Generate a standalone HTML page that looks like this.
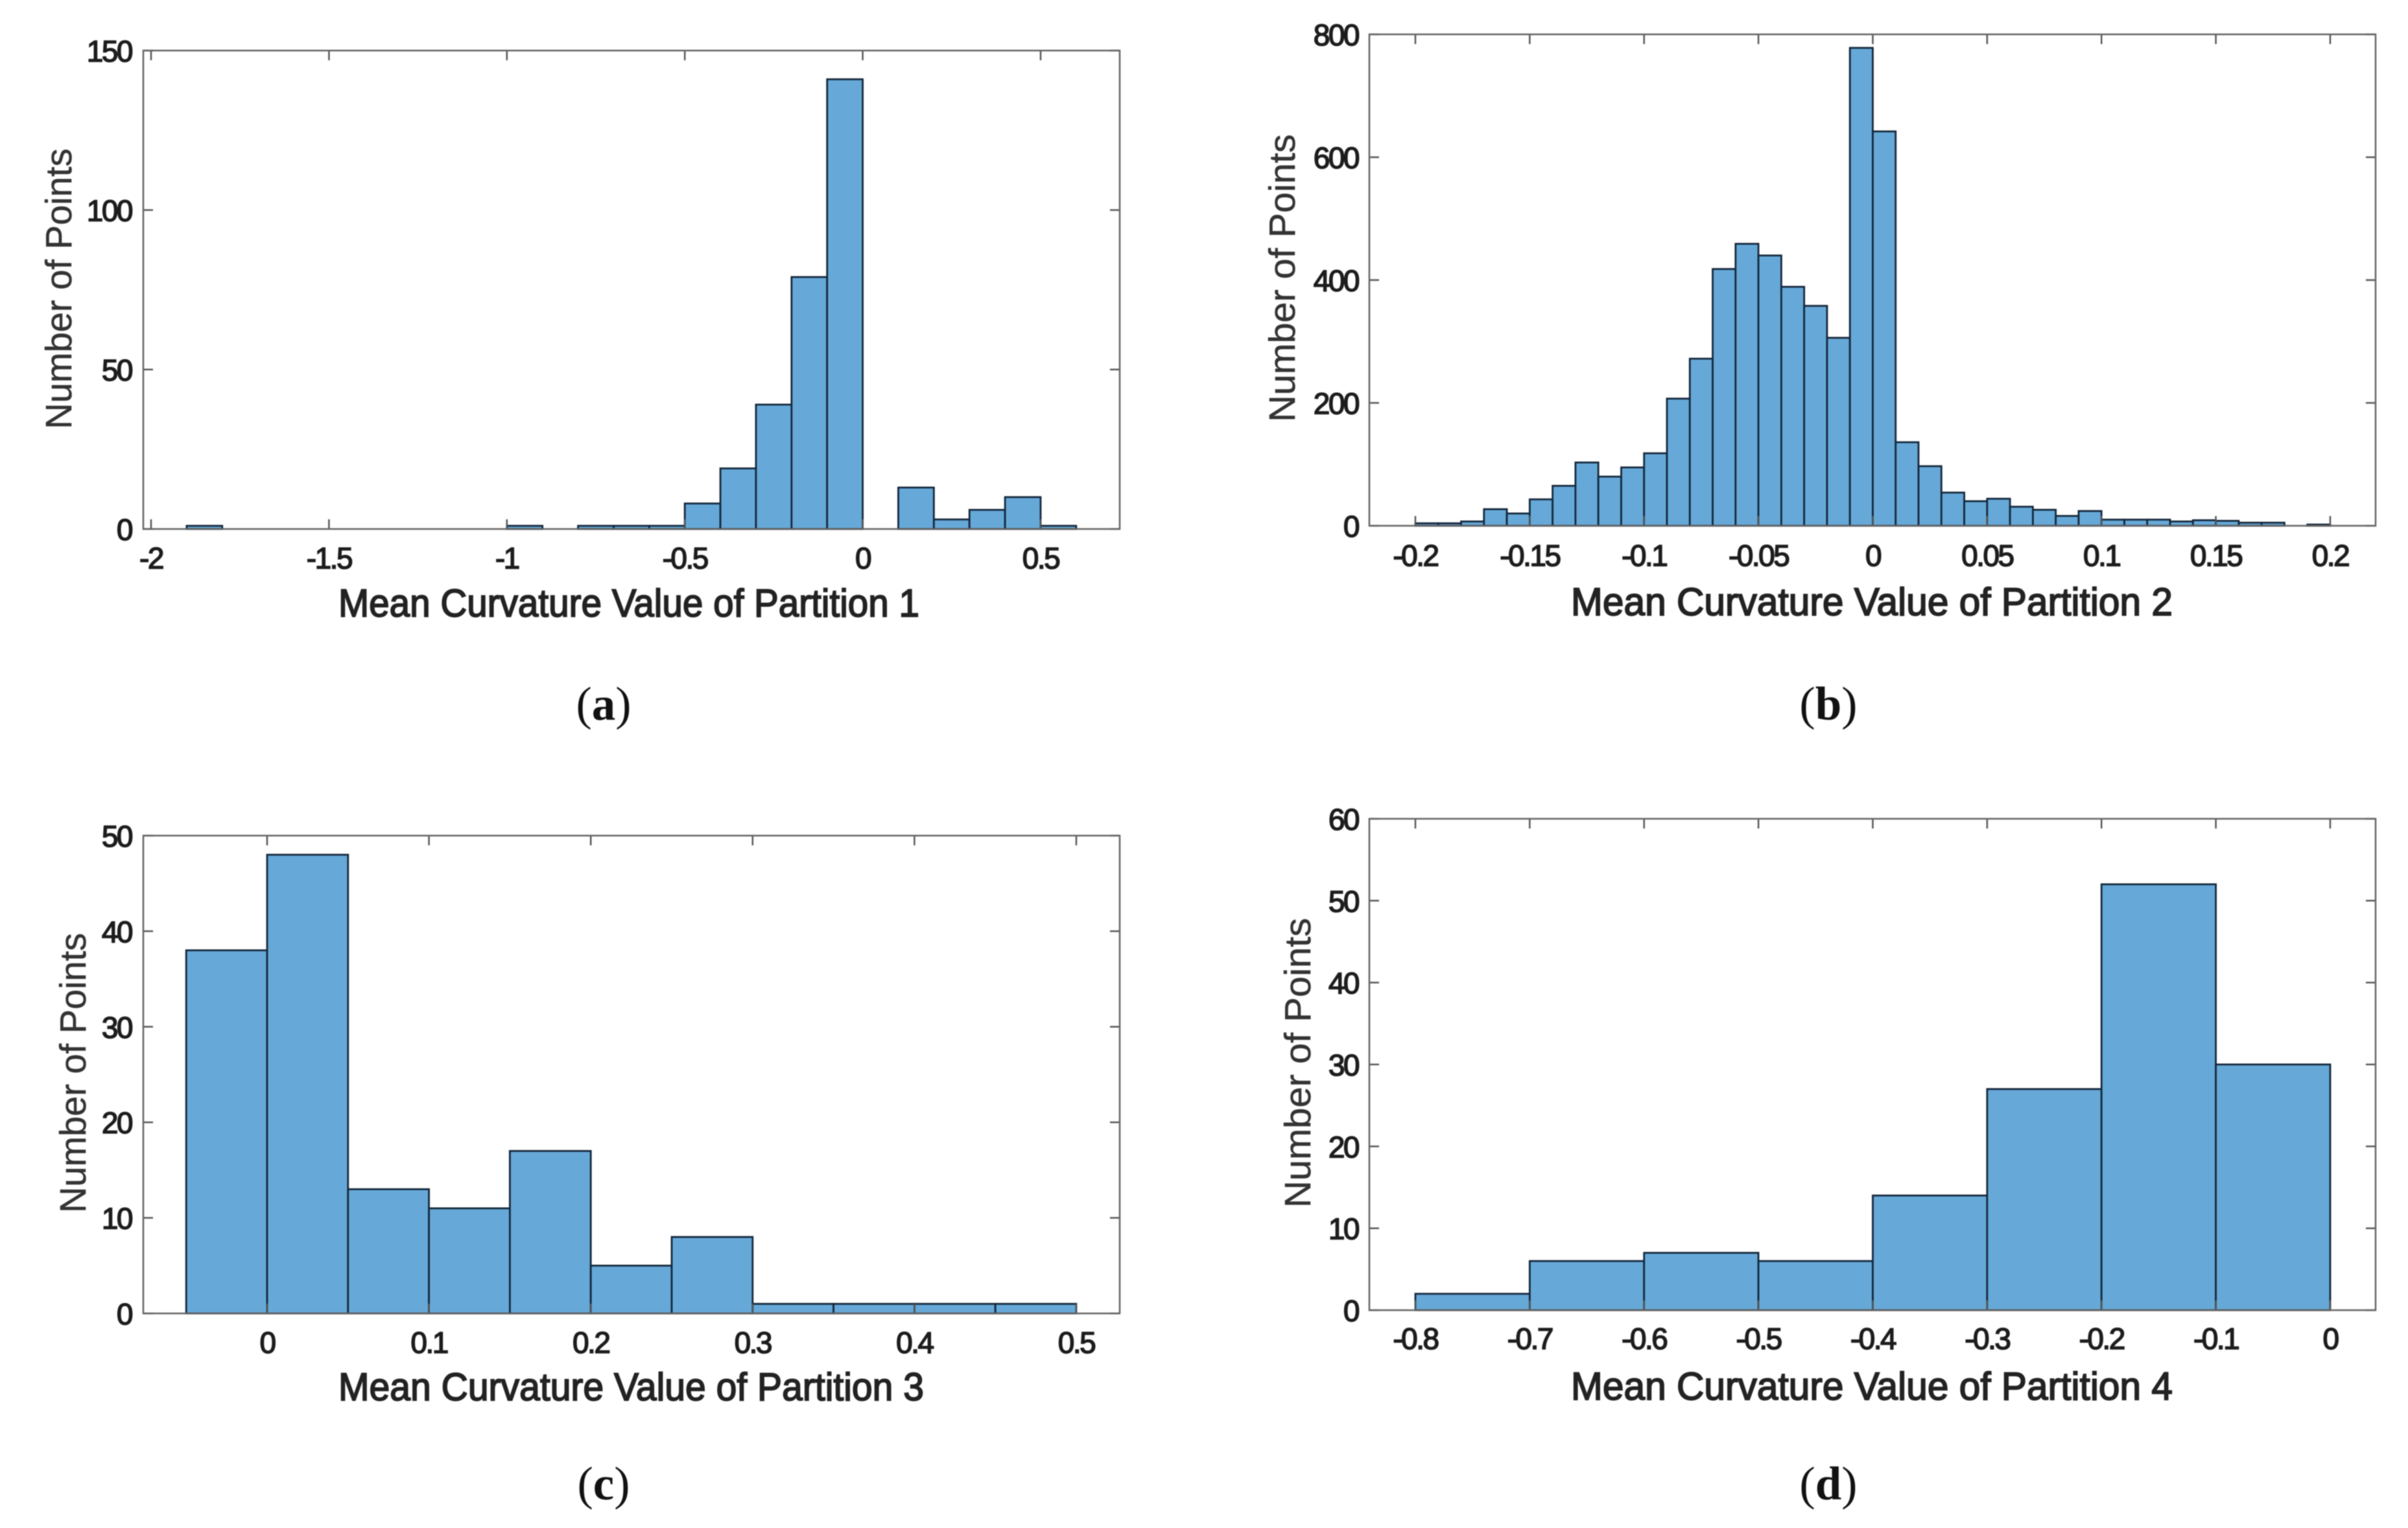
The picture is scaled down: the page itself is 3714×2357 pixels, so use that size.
<!DOCTYPE html>
<html lang="en">
<head>
<meta charset="utf-8">
<title>Mean curvature histograms</title>
<style>
html,body{margin:0;padding:0;background:#fff;width:3714px;height:2357px;overflow:hidden}
svg{display:block;filter:blur(0.9px)}
.tick{font-family:"Liberation Sans",sans-serif;font-size:46px;letter-spacing:-2.5px;fill:#1c1c1c;stroke:#1c1c1c;stroke-width:1.6px}
.xt{font-family:"Liberation Sans",sans-serif;font-size:60px;fill:#222;stroke:#222;stroke-width:1.9px}
.yt{font-family:"Liberation Sans",sans-serif;font-size:57px;fill:#333;stroke:#333;stroke-width:0.5px}
.cap{font-family:"Liberation Serif",serif;font-size:73px;fill:#111}
.cap .b{font-weight:bold}
</style>
</head>
<body>
<svg id="figure" xmlns="http://www.w3.org/2000/svg" width="3714" height="2357" viewBox="0 0 3714 2357">
  <rect x="0" y="0" width="3714" height="2357" fill="#ffffff"/>

  <g id="panel-a"></g>
  <text class="xt" x="522" y="951" textLength="896" lengthAdjust="spacingAndGlyphs">Mean Curvature Value of Partition 1</text>
  <text class="yt" transform="translate(110,662) rotate(-90)" textLength="433" lengthAdjust="spacingAndGlyphs">Number of Points</text>
  <text class="cap" x="931" y="1110" text-anchor="middle">(<tspan class="b">a</tspan>)</text>

  <g id="panel-b"></g>
  <text class="xt" x="2423" y="949" textLength="928" lengthAdjust="spacingAndGlyphs">Mean Curvature Value of Partition 2</text>
  <text class="yt" transform="translate(1997,651) rotate(-90)" textLength="444" lengthAdjust="spacingAndGlyphs">Number of Points</text>
  <text class="cap" x="2820" y="1110" text-anchor="middle">(<tspan class="b">b</tspan>)</text>

  <g id="panel-c"></g>
  <text class="xt" x="522" y="2160" textLength="903" lengthAdjust="spacingAndGlyphs">Mean Curvature Value of Partition 3</text>
  <text class="yt" transform="translate(132,1871) rotate(-90)" textLength="432" lengthAdjust="spacingAndGlyphs">Number of Points</text>
  <text class="cap" x="931" y="2313" text-anchor="middle">(<tspan class="b">c</tspan>)</text>

  <g id="panel-d"></g>
  <text class="xt" x="2423" y="2159" textLength="928" lengthAdjust="spacingAndGlyphs">Mean Curvature Value of Partition 4</text>
  <text class="yt" transform="translate(2021,1863) rotate(-90)" textLength="447" lengthAdjust="spacingAndGlyphs">Number of Points</text>
  <text class="cap" x="2820" y="2313" text-anchor="middle">(<tspan class="b">d</tspan>)</text>
</svg>

<script>
// Partition 1
const binStartA = -2;
const binWidthA = 0.1;
const countsA = [0,1,0,0,0,0,0,0,0,0,1,0,1,1,1,8,19,39,79,141,0,13,3,6,10,1];
const xTicksA = [-2,-1.5,-1,-0.5,0,0.5];
const yTicksA = [0,50,100,150];

// Partition 2
const binStartB = -0.2;
const binWidthB = 0.01;
const countsB = [4,4,7,27,20,43,65,103,80,95,118,207,272,418,459,440,389,358,306,778,642,136,97,54,40,44,31,26,16,24,10,10,10,7,9,8,5,5,0,2];
const xTicksB = [-0.2,-0.15,-0.1,-0.05,0,0.05,0.1,0.15,0.2];
const yTicksB = [0,200,400,600,800];

// Partition 3
const binStartC = -0.05;
const binWidthC = 0.05;
const countsC = [38,48,13,11,17,5,8,1,1,1,1];
const xTicksC = [0,0.1,0.2,0.3,0.4,0.5];
const yTicksC = [0,10,20,30,40,50];

// Partition 4
const binStartD = -0.8;
const binWidthD = 0.1;
const countsD = [2,6,7,6,14,27,52,30];
const xTicksD = [-0.8,-0.7,-0.6,-0.5,-0.4,-0.3,-0.2,-0.1,0];
const yTicksD = [0,10,20,30,40,50,60];

const NS = 'http://www.w3.org/2000/svg';

function makeLine(x1, y1, x2, y2, color, width) {
  const l = document.createElementNS(NS, 'line');
  l.setAttribute('x1', x1);
  l.setAttribute('y1', y1);
  l.setAttribute('x2', x2);
  l.setAttribute('y2', y2);
  l.setAttribute('stroke', color);
  l.setAttribute('stroke-width', width);
  return l;
}

function drawPanel(id, layout, binStart, binWidth, counts, xTicks, yTicks) {
  const g = document.getElementById(id);
  const xScale = v => layout.xPx0 + (v - layout.xV0) * (layout.xPx1 - layout.xPx0) / (layout.xV1 - layout.xV0);
  const yMax = yTicks[yTicks.length - 1];
  const yScale = v => layout.bottom - v * (layout.bottom - layout.top) / yMax;

  counts.forEach((c, i) => {
    const x0 = xScale(binStart + i * binWidth);
    const x1 = xScale(binStart + (i + 1) * binWidth);
    if (c <= 0) return;
    const r = document.createElementNS(NS, 'rect');
    
    
    r.setAttribute('x', x0);
    r.setAttribute('y', yScale(c));
    r.setAttribute('width', x1 - x0);
    r.setAttribute('height', yScale(0) - yScale(c));
    r.setAttribute('fill', '#66a9d8');
    r.setAttribute('stroke', '#14263a');
    r.setAttribute('stroke-width', '2.8');
    g.appendChild(r);
  });

  const frameColor = '#666666';
  const tickLen = 15;
  xTicks.forEach(t => {
    const x = xScale(t);
    const bottomTick = makeLine(x, layout.bottom, x, layout.bottom - tickLen, '#555555', 2.5);
    
    
    g.appendChild(bottomTick);
    const topTick = makeLine(x, layout.top, x, layout.top + tickLen, '#555555', 2.5);
    
    
    g.appendChild(topTick);
    const label = document.createElementNS(NS, 'text');
    
    
    label.setAttribute('class', 'tick');
    label.setAttribute('x', x);
    label.setAttribute('y', layout.xLabelY);
    label.setAttribute('text-anchor', 'middle');
    label.textContent = String(t);
    g.appendChild(label);
  });
  yTicks.forEach(t => {
    const y = yScale(t);
    const leftTick = makeLine(layout.left, y, layout.left + tickLen, y, '#555555', 2.5);
    
    
    g.appendChild(leftTick);
    const rightTick = makeLine(layout.right, y, layout.right - tickLen, y, '#555555', 2.5);
    
    
    g.appendChild(rightTick);
    const label = document.createElementNS(NS, 'text');
    
    
    label.setAttribute('class', 'tick');
    label.setAttribute('x', layout.yLabelX);
    label.setAttribute('y', y + 17);
    label.setAttribute('text-anchor', 'end');
    label.textContent = String(t);
    g.appendChild(label);
  });

  const frame = document.createElementNS(NS, 'rect');
  
  
  frame.setAttribute('x', layout.left);
  frame.setAttribute('y', layout.top);
  frame.setAttribute('width', layout.right - layout.left);
  frame.setAttribute('height', layout.bottom - layout.top);
  frame.setAttribute('fill', 'none');
  frame.setAttribute('stroke', frameColor);
  frame.setAttribute('stroke-width', '2.6');
  g.appendChild(frame);
}

drawPanel('panel-a',
  {left:221, right:1727, top:78, bottom:816, xV0:-2, xV1:0.5, xPx0:233, xPx1:1605, xLabelY:877, yLabelX:203},
  binStartA, binWidthA, countsA, xTicksA, yTicksA);
drawPanel('panel-b',
  {left:2112, right:3664, top:53, bottom:811, xV0:-0.2, xV1:0.2, xPx0:2183, xPx1:3594, xLabelY:873, yLabelX:2095},
  binStartB, binWidthB, countsB, xTicksB, yTicksB);
drawPanel('panel-c',
  {left:221, right:1727, top:1289, bottom:2026, xV0:0, xV1:0.5, xPx0:412, xPx1:1660, xLabelY:2087, yLabelX:203},
  binStartC, binWidthC, countsC, xTicksC, yTicksC);
drawPanel('panel-d',
  {left:2112, right:3664, top:1263, bottom:2021, xV0:-0.8, xV1:0, xPx0:2183, xPx1:3594, xLabelY:2081, yLabelX:2095},
  binStartD, binWidthD, countsD, xTicksD, yTicksD);
</script>
</body>
</html>
